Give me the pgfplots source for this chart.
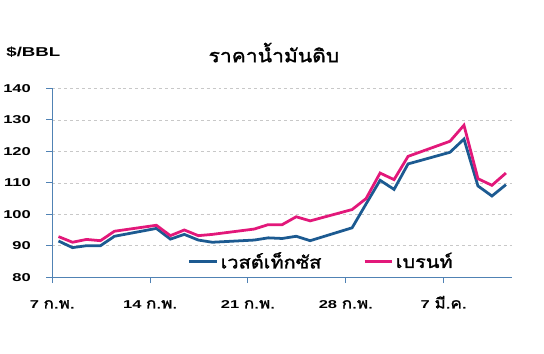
\documentclass[border=0pt]{standalone}
\usepackage{pgfplots}
\pgfplotsset{compat=1.18}
\usepackage{fontspec}
\setmainfont{Liberation Sans}[FakeStretch=1.45]
\newfontfamily\thai[Script=Thai, FakeStretch=1.15, AutoFakeBold=1.6]{Loma}
\definecolor{wti}{RGB}{28,90,145}
\definecolor{brent}{RGB}{226,24,122}
\definecolor{axc}{RGB}{80,130,180}
\definecolor{gridc}{RGB}{200,200,200}
\begin{document}
\begin{tikzpicture}
\begin{axis}[
  scale only axis,
  width=463bp, height=190bp,
  xmin=0, xmax=32.9,
  ymin=80, ymax=140,
  ytick={80,90,...,140},
  xtick={0,7,14,21,28},
  xticklabels={{7 {\thai\fontsize{15}{16}\selectfont ก.พ.}},{14 {\thai\fontsize{15}{16}\selectfont ก.พ.}},{21 {\thai\fontsize{15}{16}\selectfont ก.พ.}},{28 {\thai\fontsize{15}{16}\selectfont ก.พ.}},{7 {\thai\fontsize{15}{16}\selectfont มี.ค.}}},
  axis lines=left,
  axis line style={draw=axc, line width=1pt, -},
  tick style={draw=axc, line width=1pt},
  tick align=outside,
  major tick length=6bp,
  ymajorgrids,
  grid style={draw=gridc, dashed, line width=0.6pt},
  /pgf/number format/assume math mode=true,
  tick label style={font=\fontsize{11.5}{13}\selectfont\bfseries},
  yticklabel style={xshift=-12bp},
  xticklabel style={yshift=-8bp, text height=14bp, text depth=2bp},
  clip=false,
  legend columns=2,
  legend style={at={(0.585,0.085)}, anchor=center, draw=none, fill=white,
    font=\fontsize{17.5}{19}\selectfont\bfseries\thai,
    /tikz/every even column/.append style={column sep=40bp},
    inner sep=0pt},
  legend image code/.code={\draw[#1, line width=2.8pt] (0bp,0bp) -- (28bp,0bp);},
]
\addplot[wti, line width=2.8pt] coordinates {
(0.45,91.5)(1.45,89.4)(2.45,90.0)(3.45,90.0)(4.45,93.0)
(7.45,95.5)(8.45,92.1)(9.45,93.6)(10.45,91.8)(11.45,91.1)
(14.45,91.8)(15.45,92.5)(16.45,92.3)(17.45,93.0)(18.45,91.6)
(21.45,95.7)(22.45,103.3)(23.45,110.8)(24.45,107.9)(25.45,116.0)
(28.45,119.7)(29.45,123.9)(30.45,109.0)(31.45,105.8)(32.45,109.4)
};
\addlegendentry{เวสต์เท็กซัส}
\addplot[brent, line width=2.8pt] coordinates {
(0.45,92.9)(1.45,91.1)(2.45,92.0)(3.45,91.6)(4.45,94.6)
(7.45,96.5)(8.45,93.2)(9.45,95.0)(10.45,93.2)(11.45,93.6)
(14.45,95.3)(15.45,96.7)(16.45,96.7)(17.45,99.2)(18.45,97.9)
(21.45,101.5)(22.45,105.0)(23.45,113.1)(24.45,111.0)(25.45,118.4)
(28.45,123.2)(29.45,128.3)(30.45,111.3)(31.45,109.2)(32.45,113.1)
};
\addlegendentry{เบรนท์}
\coordinate (bl) at (rel axis cs:0,0);
\coordinate (tr) at (rel axis cs:1,1);
\node[font=\fontsize{18.5}{20}\selectfont\bfseries\thai, anchor=center] at (rel axis cs:0.482,1.19) {ราคาน้ำมันดิบ};
\node[font=\fontsize{13}{14}\selectfont\bfseries, anchor=west, inner sep=0pt] at (rel axis cs:-0.1,1.19) {\$/BBL};
\end{axis}
\path[use as bounding box] ([shift={(-49bp,-77bp)}]bl) rectangle ([shift={(32bp,89bp)}]tr);
\end{tikzpicture}
\end{document}
